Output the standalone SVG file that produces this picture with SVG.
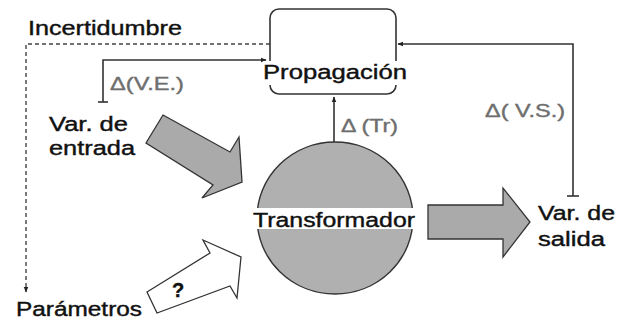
<svg xmlns="http://www.w3.org/2000/svg" width="624" height="320" viewBox="0 0 624 320">
<defs>
<style>
.t{font-family:"Liberation Sans",Arial,sans-serif;font-size:20px;fill:#111;stroke:#111;stroke-width:0.4}
.g{font-family:"Liberation Sans",Arial,sans-serif;font-size:19px;fill:#6e6e6e;stroke:#6e6e6e;stroke-width:0.4}
.ln{fill:none;stroke:#333;stroke-width:1.6}
.ds{fill:none;stroke:#444;stroke-width:1.4;stroke-dasharray:4 3}
.ar{fill:#aaa;stroke:#333;stroke-width:1.3;stroke-linejoin:miter}
</style>
<marker id="ah" viewBox="0 0 10 10" refX="9" refY="5" markerWidth="6" markerHeight="6" orient="auto" markerUnits="userSpaceOnUse">
<path d="M0,1 L10,5 L0,9 z" fill="#222"/>
</marker>
</defs>
<rect width="624" height="320" fill="#fff"/>

<g id="connectors">
<polyline class="ds" points="270,44 26,44 26,292" marker-end="url(#ah)"/>
<polyline class="ln" points="103,102 103,60 266,60" marker-end="url(#ah)"/>
<line class="ln" x1="98" y1="102" x2="108" y2="102"/>
<line class="ln" x1="334" y1="143" x2="334" y2="97" marker-end="url(#ah)"/>
<line x1="327" y1="143" x2="342" y2="143" stroke="#222" stroke-width="2"/>
<polyline class="ln" points="573,196 573,44 398,44" marker-end="url(#ah)"/>
<line class="ln" x1="567" y1="196" x2="579" y2="196"/>
</g>

<g id="propagacion">
<rect x="270" y="9" width="126" height="85" rx="9" fill="#fff" stroke="#333" stroke-width="1.6"/>
<rect x="263" y="61" width="144" height="24" fill="#fff"/>
<text class="t" x="263" y="79" textLength="144" lengthAdjust="spacingAndGlyphs">Propagación</text>
</g>

<g id="incertidumbre">
<text class="t" x="28" y="35" textLength="154" lengthAdjust="spacingAndGlyphs">Incertidumbre</text>
</g>

<g id="var-entrada">
<text class="t" x="49" y="131" textLength="79" lengthAdjust="spacingAndGlyphs">Var. de</text>
<text class="t" x="49" y="155" textLength="86" lengthAdjust="spacingAndGlyphs">entrada</text>
</g>

<g id="flecha-entrada">
<polygon class="ar" points="163,115 230,152 239,137 242,182 202,198 213,185 146,143"/>
</g>

<g id="flecha-parametros">
<polygon class="ar" style="fill:#fff" points="147,292 210,253 203,240 241,257 237,298 230,286 157,313"/>
<text class="t" x="172" y="297" style="font-weight:bold">?</text>
</g>

<g id="parametros">
<text class="t" x="16" y="316" textLength="126" lengthAdjust="spacingAndGlyphs">Parámetros</text>
</g>

<g id="transformador">
<ellipse cx="335" cy="218" rx="78" ry="76" fill="#b0b0b0" stroke="#333" stroke-width="1.4"/>
<rect x="252" y="208" width="166" height="21" fill="#fff"/>
<text class="t" x="253" y="227" textLength="162" lengthAdjust="spacingAndGlyphs">Transformador</text>
</g>

<g id="flecha-salida">
<polygon class="ar" points="428,205 503,205 503,188 530,222 503,257 503,239 428,239"/>
</g>

<g id="var-salida">
<text class="t" x="538" y="220" textLength="77" lengthAdjust="spacingAndGlyphs">Var. de</text>
<text class="t" x="538" y="246" textLength="67" lengthAdjust="spacingAndGlyphs">salida</text>
</g>

<g id="labels">
<text class="g" x="110" y="90" textLength="74" lengthAdjust="spacingAndGlyphs">Δ(V.E.)</text>
<text class="g" x="341" y="132" textLength="57" lengthAdjust="spacingAndGlyphs">Δ (Tr)</text>
<text class="g" x="485" y="117" textLength="80" lengthAdjust="spacingAndGlyphs">Δ( V.S.)</text>
</g>
</svg>
